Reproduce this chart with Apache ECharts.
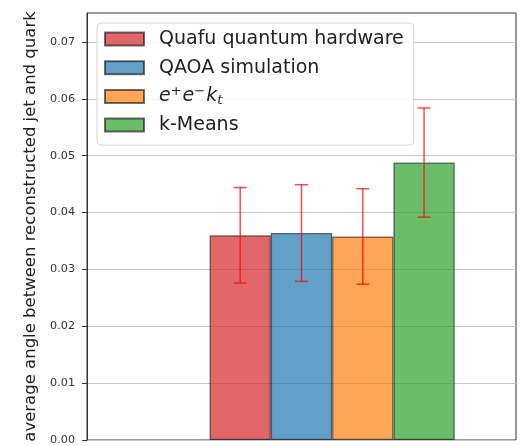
<!DOCTYPE html>
<html>
<head>
<meta charset="utf-8">
<script src="https://cdn.jsdelivr.net/npm/echarts@6/dist/echarts.min.js"></script>
<style>
  html, body { margin: 0; padding: 0; background: #fff; }
  #chart { width: 522px; height: 446px; }
</style>
</head>
<body>
<div id="chart"></div>
<script>
// values
const slots = ['', '', 'a', 'b', 'c', 'd', ''];
const names = ['Quafu quantum hardware', 'QAOA simulation', 'eekt', 'k-Means'];
const slotIndex = [2, 3, 4, 5];
const means = [0.0360, 0.0364, 0.0358, 0.0488];
const errors = [0.0084, 0.0085, 0.0084, 0.0096];
const colors = ['#d62728', '#1f77b4', '#ff7f0e', '#2ca02c'];
const yTicks = [0, 0.01, 0.02, 0.03, 0.04, 0.05, 0.06, 0.07];

const myChart = echarts.init(document.getElementById('chart'));

const barSeries = names.map((name, i) => {
    const data = slots.map(() => '-');
    data[slotIndex[i]] = means[i];
    return {
        name: name,
        type: 'bar',
        stack: 'all',
        barWidth: '100%',
        data: data,
        itemStyle: {
            color: colors[i],
            opacity: 0.7,
            borderColor: 'rgba(0,0,0,0.8)',
            borderWidth: 1.2
        },
        emphasis: { disabled: true }
    };
});

const errData = slotIndex.map((s, i) => [s, means[i] - errors[i], means[i] + errors[i]]);

const errSeries = {
    type: 'custom',
    name: 'err',
    data: errData,
    encode: { x: 0, y: [1, 2] },
    z: 10,
    renderItem: function (params, api) {
        const x = api.value(0);
        const lo = api.coord([x, api.value(1)]);
        const hi = api.coord([x, api.value(2)]);
        const half = 6.5;
        const style = { stroke: 'rgba(255,0,0,0.7)', lineWidth: 1.5 };
        return {
            type: 'group',
            children: [
                { type: 'line', shape: { x1: lo[0], y1: lo[1], x2: hi[0], y2: hi[1] }, style: style },
                { type: 'line', shape: { x1: lo[0] - half, y1: lo[1], x2: lo[0] + half, y2: lo[1] }, style: style },
                { type: 'line', shape: { x1: hi[0] - half, y1: hi[1], x2: hi[0] + half, y2: hi[1] }, style: style }
            ]
        };
    }
};

const option = {
    animation: false,
    textStyle: { fontFamily: 'DejaVu Sans' },
    grid: {
        left: 87, right: 6, top: 13, bottom: 6,
        show: true, borderColor: '#333', borderWidth: 1
    },
    legend: {
        orient: 'vertical',
        left: 97,
        top: 23,
        data: names,
        icon: 'rect',
        itemWidth: 39,
        itemHeight: 13,
        itemGap: 6.7,
        padding: [5, 10, 9, 7],
        backgroundColor: 'rgba(255,255,255,0.8)',
        borderColor: '#d6d6d6',
        borderWidth: 1,
        borderRadius: 4,
        textStyle: {
            fontSize: 19,
            color: '#222',
            lineHeight: 22,
            padding: [0, 0, 0, 10],
            rich: {
                i: { fontSize: 19, fontStyle: 'italic', color: '#222', lineHeight: 22 },
                sup: { fontSize: 13, verticalAlign: 'top', color: '#222', padding: [0, 1, 9, 0] },
                sub: { fontSize: 13, fontStyle: 'italic', color: '#222', padding: [9, 0, 0, 0] }
            }
        },
        formatter: function (name) {
            if (name === 'eekt') return '{i|e}{sup|+}{i|e}{sup|\u2212}{i|k}{sub|t}';
            return name;
        }
    },
    xAxis: {
        type: 'category',
        data: slots,
        axisLine: { show: false },
        axisTick: { show: false },
        axisLabel: { show: false },
        splitLine: { show: false }
    },
    yAxis: {
        type: 'value',
        min: 0,
        max: 0.0751,
        interval: 0.01,
        name: 'average angle between reconstructed jet and quark',
        nameLocation: 'middle',
        nameGap: 46,
        nameTextStyle: { fontSize: 16.5, color: '#222' },
        axisLine: { show: true, lineStyle: { color: '#333' } },
        axisTick: { show: true, length: 5, customValues: yTicks, lineStyle: { color: '#333' } },
        axisLabel: {
            customValues: yTicks,
            fontSize: 11.2,
            color: '#333',
            margin: 12,
            formatter: v => v.toFixed(2)
        },
        splitLine: { show: true, lineStyle: { color: '#c8c8c8', width: 1 } }
    },
    series: barSeries.concat([errSeries])
};

myChart.setOption(option);
</script>
</body>
</html>
